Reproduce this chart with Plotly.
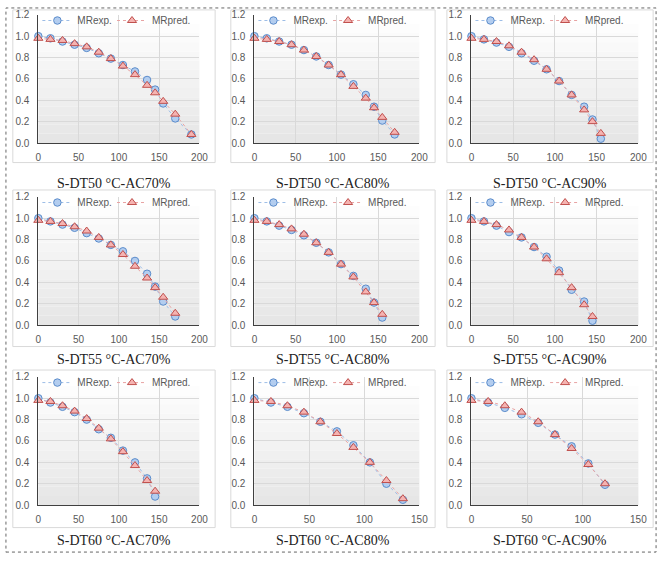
import plotly.graph_objects as go

# ---------------- data ----------------
titles = ["S-DT50 °C-AC70%", "S-DT50 °C-AC80%", "S-DT50 °C-AC90%",
          "S-DT55 °C-AC70%", "S-DT55 °C-AC80%", "S-DT55 °C-AC90%",
          "S-DT60 °C-AC70%", "S-DT60 °C-AC80%", "S-DT60 °C-AC90%"]

t1 = [0, 15, 30, 45, 60, 75, 90, 105, 120, 135, 145, 155, 170, 190]
exp1 = [1.00, 0.98, 0.95, 0.92, 0.89, 0.84, 0.79, 0.73, 0.67, 0.59, 0.50, 0.37, 0.23, 0.08]
pred1 = [0.98, 0.97, 0.96, 0.93, 0.90, 0.85, 0.79, 0.72, 0.64, 0.54, 0.47, 0.39, 0.27, 0.08]

t2 = [0, 15, 30, 45, 60, 75, 90, 105, 120, 135, 145, 155, 170]
exp2 = [1.00, 0.98, 0.95, 0.92, 0.87, 0.81, 0.73, 0.64, 0.55, 0.45, 0.34, 0.21, 0.08]
pred2 = [0.98, 0.97, 0.95, 0.92, 0.87, 0.81, 0.73, 0.64, 0.53, 0.42, 0.33, 0.24, 0.10]

t3 = [0, 15, 30, 45, 60, 75, 90, 105, 120, 135, 145, 155]
exp3 = [1.00, 0.97, 0.94, 0.90, 0.84, 0.77, 0.69, 0.58, 0.45, 0.34, 0.22, 0.04]
pred3 = [0.98, 0.97, 0.95, 0.91, 0.85, 0.78, 0.69, 0.58, 0.45, 0.31, 0.20, 0.09]

t4 = [0, 15, 30, 45, 60, 75, 90, 105, 120, 135, 145, 155, 170]
exp4 = [1.00, 0.97, 0.94, 0.91, 0.86, 0.81, 0.75, 0.69, 0.60, 0.48, 0.36, 0.22, 0.08]
pred4 = [0.98, 0.97, 0.95, 0.92, 0.88, 0.82, 0.75, 0.66, 0.55, 0.44, 0.35, 0.26, 0.11]

t5 = [0, 15, 30, 45, 60, 75, 90, 105, 120, 135, 145, 155]
exp5 = [1.00, 0.97, 0.93, 0.89, 0.84, 0.77, 0.68, 0.57, 0.46, 0.34, 0.21, 0.07]
pred5 = [0.98, 0.97, 0.94, 0.90, 0.85, 0.77, 0.68, 0.57, 0.45, 0.31, 0.21, 0.10]

t6 = [0, 15, 30, 45, 60, 75, 90, 105, 120, 135, 145]
exp6 = [1.00, 0.97, 0.93, 0.87, 0.82, 0.73, 0.64, 0.51, 0.33, 0.22, 0.04]
pred6 = [0.98, 0.97, 0.94, 0.89, 0.82, 0.73, 0.62, 0.49, 0.35, 0.19, 0.08]

t7 = [0, 15, 30, 45, 60, 75, 90, 105, 120, 135, 145]
exp7 = [1.00, 0.96, 0.92, 0.87, 0.80, 0.71, 0.63, 0.51, 0.40, 0.25, 0.08]
pred7 = [0.98, 0.97, 0.93, 0.88, 0.81, 0.72, 0.62, 0.50, 0.37, 0.23, 0.13]

t8 = [0, 15, 30, 45, 60, 75, 90, 105, 120, 135]
exp8 = [1.00, 0.96, 0.92, 0.86, 0.78, 0.69, 0.56, 0.40, 0.20, 0.05]
pred8 = [0.98, 0.97, 0.93, 0.87, 0.78, 0.67, 0.54, 0.40, 0.23, 0.06]

t9 = [0, 15, 30, 45, 60, 75, 90, 105, 120]
exp9 = [1.00, 0.96, 0.91, 0.85, 0.77, 0.66, 0.55, 0.39, 0.19]
pred9 = [0.98, 0.97, 0.93, 0.87, 0.78, 0.66, 0.53, 0.38, 0.20]

x_max = [200, 200, 200, 200, 200, 200, 200, 150, 150]
y_ticks = [0.0, 0.2, 0.4, 0.6, 0.8, 1.0, 1.2]

series = [(t1, exp1, pred1), (t2, exp2, pred2), (t3, exp3, pred3),
          (t4, exp4, pred4), (t5, exp5, pred5), (t6, exp6, pred6),
          (t7, exp7, pred7), (t8, exp8, pred8), (t9, exp9, pred9)]

# ---------------- layout geometry (pixels) ----------------
W, H = 669, 561
col_px = [(36, 200), (256, 424), (477, 647)]
row_px = [(9, 140), (195, 326), (379, 510)]
box_col = [(10, 216), (232, 440), (452, 662)]
box_row = [(4, 160), (188, 348), (372, 533)]
cap_y = [181, 361, 546]


def fx(px):
    return px / W


def fy(py):
    return 1 - py / H


fig = go.Figure()
shapes = []
annotations = []
tick_font = dict(family="Liberation Sans, Arial, sans-serif", size=10, color="#595959")
legend_font = dict(family="Liberation Sans, Arial, sans-serif", size=10, color="#595959")

blue_line = "#9dbde6"
blue_fill = "#b3cdef"
blue_edge = "#5b8ccb"
red_line = "#e8a3a3"
red_fill = "#f5b3b1"
red_edge = "#c0504d"

layout_upd = {}
for i, (t, e, p) in enumerate(series):
    n = i + 1
    r, c = divmod(i, 3)
    xa = "x" if n == 1 else f"x{n}"
    ya = "y" if n == 1 else f"y{n}"
    lg_a = "legend" if n == 1 else f"legend{2 * n - 1}"
    lg_b = f"legend{2 * n}"
    fig.add_trace(go.Scatter(
        x=t, y=e, name="MRexp.", mode="lines+markers", xaxis=xa, yaxis=ya,
        legend=lg_a, cliponaxis=False,
        line=dict(color=blue_line, width=1, dash="dot"),
        marker=dict(symbol="circle", size=7.5, color=blue_fill,
                    line=dict(color=blue_edge, width=1))))
    fig.add_trace(go.Scatter(
        x=t, y=p, name="MRpred.", mode="lines+markers", xaxis=xa, yaxis=ya,
        legend=lg_b, cliponaxis=False,
        line=dict(color=red_line, width=1, dash="dot"),
        marker=dict(symbol="triangle-up", size=8, color=red_fill,
                    line=dict(color=red_edge, width=1))))

    x0, x1 = col_px[c]
    y0, y1 = row_px[r]
    xkey = "xaxis" if n == 1 else f"xaxis{n}"
    ykey = "yaxis" if n == 1 else f"yaxis{n}"
    layout_upd[xkey] = dict(domain=[fx(x0), fx(x1)], anchor=ya, range=[0, x_max[i]],
                            dtick=50, tick0=0, showgrid=True, gridcolor="#d9d9d9",
                            gridwidth=1, zeroline=False, showline=True,
                            linecolor="#404040", linewidth=1, ticks="",
                            tickfont=tick_font, ticklabelstandoff=5)
    layout_upd[ykey] = dict(domain=[fy(y1), fy(y0)], anchor=xa, range=[0, 1.2],
                            tickvals=y_ticks, tickformat=".1f", showgrid=True,
                            gridcolor="#d9d9d9", gridwidth=1, zeroline=False,
                            showline=True, linecolor="#404040", linewidth=1, ticks="",
                            tickfont=tick_font, ticklabelstandoff=6)
    layout_upd[lg_a] = dict(orientation="h", x=fx(x0 - 1), y=fy(y0 - 9),
                            xanchor="left", yanchor="top", bgcolor="rgba(0,0,0,0)",
                            font=legend_font)
    layout_upd[lg_b] = dict(orientation="h", x=fx(x0 + 75), y=fy(y0 - 9),
                            xanchor="left", yanchor="top", bgcolor="rgba(0,0,0,0)",
                            font=legend_font)

    # gradient plot background
    N = 14
    for k in range(N):
        frac = k / (N - 1)
        g = int(round(0xe6 + (0xff - 0xe6) * frac))
        shapes.append(dict(type="rect", layer="below",
                           xref=f"{xa} domain", yref=f"{ya} domain",
                           x0=0, x1=1, y0=k / N, y1=(k + 1) / N,
                           fillcolor=f"rgb({g},{g},{g})", line=dict(width=0)))

    # chart box
    bx0, bx1 = box_col[c]
    by0, by1 = box_row[r]
    shapes.append(dict(type="rect", xref="paper", yref="paper",
                       x0=fx(bx0), x1=fx(bx1), y0=fy(by1), y1=fy(by0),
                       line=dict(color="#d9d9d9", width=1), layer="below"))

    annotations.append(dict(text=titles[i], xref="paper", yref="paper",
                            x=fx((bx0 + bx1) / 2), y=fy(cap_y[r]),
                            xanchor="center", yanchor="middle", showarrow=False,
                            font=dict(family="Liberation Serif, Times New Roman, serif",
                                      size=14, color="#222222")))

# outer dashed border
shapes.append(dict(type="rect", xref="paper", yref="paper",
                   x0=fx(3), x1=fx(665), y0=fy(558), y1=fy(2),
                   line=dict(color="#666666", width=1, dash="dot")))

fig.update_layout(**layout_upd)
fig.update_layout(width=W, height=H, margin=dict(l=0, r=0, t=0, b=0),
                  paper_bgcolor="white", plot_bgcolor="white",
                  shapes=shapes, annotations=annotations, showlegend=True)

fig.write_html("out.html", config={"displayModeBar": False},
               post_script="document.body.style.margin='0';document.body.style.overflow='hidden';")
